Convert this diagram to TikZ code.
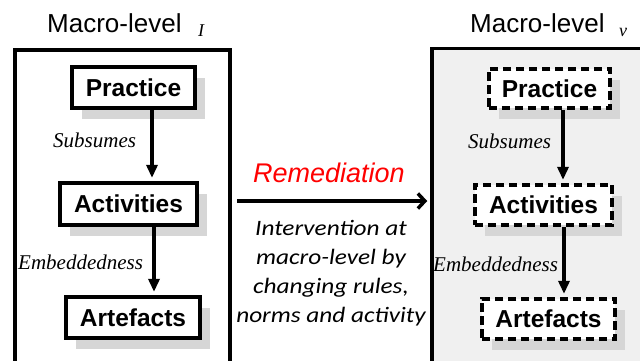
\documentclass[tikz,border=0pt]{standalone}
\usepackage{fontspec}
\setmainfont{Liberation Sans}
\newfontfamily\serifit{Liberation Serif}
\newfontfamily\calit[FakeStretch=1.15]{Carlito}
\usetikzlibrary{arrows.meta,shadows}
\definecolor{shadowgray}{HTML}{D6D6D6}
\definecolor{panelgray}{HTML}{F0F0F0}
\definecolor{remred}{HTML}{FF0000}
\begin{document}
\begin{tikzpicture}[x=1pt,y=-1pt,
  levelbox/.style={draw, inner sep=0pt, anchor=center},
  conceptbox/.style={draw, fill=white, line width=3.8pt, inner sep=0pt,
    font=\fontsize{24.5}{28}\selectfont\bfseries,
    drop shadow={shadow xshift=10pt, shadow yshift=-11pt, fill=shadowgray, opacity=1}},
  planbox/.style={conceptbox, dash pattern=on 8.5pt off 4.5pt},
  relation/.style={font=\fontsize{21}{24}\selectfont\serifit\itshape, inner sep=0pt, anchor=base west},
  levelname/.style={font=\fontsize{26}{30}\selectfont, inner sep=0pt, anchor=base west},
  levelindex/.style={font=\fontsize{18}{20}\selectfont\serifit\itshape, inner sep=0pt, anchor=base west},
  down/.style={line width=3.2pt, -{Triangle[length=13pt,width=11pt]}, shorten >=3pt},
  across/.style={line width=3.5pt, -{Straight Barb[length=7pt,width=15pt,line width=3.5pt]}}
]
\useasboundingbox (0,0) rectangle (640,360);
\clip (0,0) rectangle (640,360);
\fill[white] (0,0) rectangle (640,360);

% outer frames of the two macro-levels
\node[levelbox, line width=4.5pt, minimum width=215pt, minimum height=330pt] (L) at (122.5,215) {};
\node[levelbox, line width=3.5pt, fill=panelgray, minimum width=228pt, minimum height=332pt] (R) at (546,214.5) {};

% headings
\node[levelname] (Lh) at (47,32) {Macro-level};
\node[levelindex] (Li) at (198,36) {I};
\node[levelname] (Rh) at (470,32) {Macro-level};
\node[levelindex] (Ri) at (619,36) {v};

% left hierarchy
\node[conceptbox, minimum width=123.5pt, minimum height=41.5pt] (P1) at (133.5,87.5) {Practice};
\node[conceptbox, minimum width=137.5pt, minimum height=42.5pt] (A1) at (128.5,204) {Activities};
\node[conceptbox, minimum width=134.5pt, minimum height=41.5pt] (F1) at (133,317.5) {Artefacts};
\draw[down] ([xshift=18.5pt]P1.south) -- ([xshift=18.5pt]P1.south |- A1.north);
\draw[down] ([xshift=25.5pt]A1.south) -- ([xshift=25.5pt]A1.south |- F1.north);
\node[relation] (s1) at (53,147) {Subsumes};
\node[relation] (e1) at (18,269) {Embeddedness};

% right hierarchy
\node[planbox, minimum width=121.5pt, minimum height=39.5pt] (P2) at (549.5,88.5) {Practice};
\node[planbox, minimum width=137.5pt, minimum height=40.5pt] (A2) at (543.5,205) {Activities};
\node[planbox, minimum width=133.5pt, minimum height=40.5pt] (F2) at (548.5,319) {Artefacts};
\draw[down] ([xshift=13.5pt]P2.south) -- ([xshift=13.5pt]P2.south |- A2.north);
\draw[down] ([xshift=20.5pt]A2.south) -- ([xshift=20.5pt]A2.south |- F2.north);
\node[relation] (s2) at (468,148) {Subsumes};
\node[relation] (e2) at (433,271) {Embeddedness};

% remediation between the levels
\coordinate (mid) at (330,201);
\draw[across] ([xshift=5pt]L.east |- mid) -- ([xshift=-3pt]R.west |- mid);
\node[font=\fontsize{27}{30}\selectfont\itshape, text=remred, inner sep=0pt, anchor=base] (rem) at (329,182) {Remediation};
\node[font=\fontsize{22}{29}\selectfont\calit\itshape, align=center, inner sep=0pt, anchor=north] (int) at (331,220)
  {Intervention at\\macro-level by\\changing rules,\\norms and activity};
\end{tikzpicture}
\end{document}
